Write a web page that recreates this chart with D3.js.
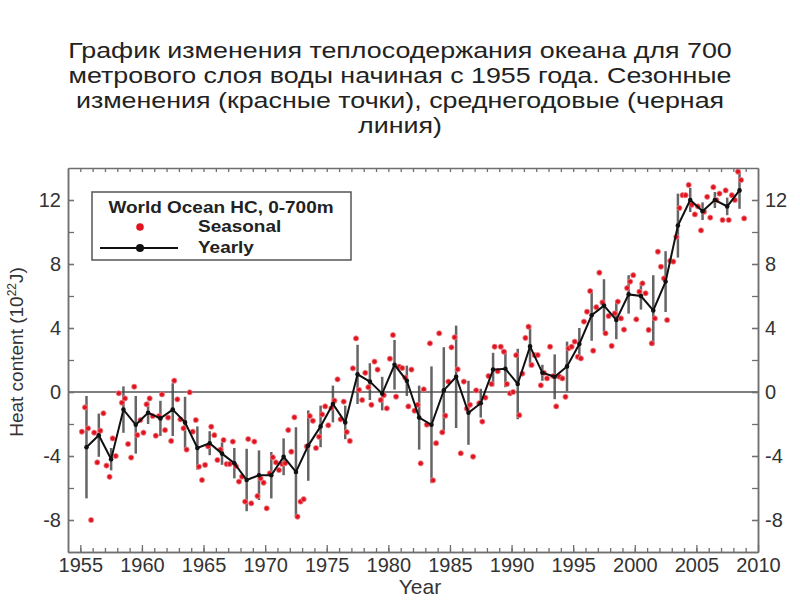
<!DOCTYPE html>
<html>
<head>
<meta charset="utf-8">
<script src="https://cdn.jsdelivr.net/npm/d3@7"></script>
<style>
  body { margin: 0; background: #fff; }
  svg { display: block; font-family: "Liberation Sans", Arial, sans-serif; }
</style>
</head>
<body>
<svg id="chart" width="800" height="600"></svg>
<script>
// ---- data ----
const titleLines = [
  'График изменения теплосодержания океана для 700',
  'метрового слоя воды начиная с 1955 года. Сезонные',
  'изменения (красные точки), среднегодовые (черная',
  'линия)'
]

const years = [1955, 1956, 1957, 1958, 1959, 1960, 1961, 1962, 1963, 1964,
  1965, 1966, 1967, 1968, 1969, 1970, 1971, 1972, 1973, 1974,
  1975, 1976, 1977, 1978, 1979, 1980, 1981, 1982, 1983, 1984,
  1985, 1986, 1987, 1988, 1989, 1990, 1991, 1992, 1993, 1994,
  1995, 1996, 1997, 1998, 1999, 2000, 2001, 2002, 2003, 2004,
  2005, 2006, 2007, 2008]

// yearly mean, 10^22 J
const yearly = [-3.45, -2.7, -4.2, -1.1, -2.05, -1.3, -1.65, -1.1, -1.9, -3.5,
  -3.2, -3.85, -4.45, -5.5, -5.2, -5.2, -4.05, -5.0, -3.35, -2.15,
  -0.75, -1.9, 1.1, 0.65, -0.1, 1.7, 0.7, -1.6, -2.05, 0.1,
  0.95, -1.3, -0.7, 1.4, 1.45, 0.5, 2.85, 1.2, 0.95, 1.6,
  3.0, 4.8, 5.4, 4.5, 6.1, 6.0, 5.1, 6.9, 10.4, 12.0,
  11.3, 12.0, 11.6, 12.6]

// half length of the error bar
const yearlyErr = [3.2, 1.35, 0.7, 1.45, 1.8, 0.7, 1.1, 1.65, 1.6, 1.35,
  0.75, 0.7, 0.95, 1.95, 1.55, 1.45, 1.15, 2.8, 2.2, 1.3,
  1.15, 1.05, 1.85, 1.15, 1.05, 1.55, 0.95, 2.0, 3.65, 2.7,
  3.2, 2.0, 0.9, 1.05, 1.15, 2.2, 1.3, 0.5, 1.4, 1.55,
  1.0, 1.6, 1.65, 1.2, 1.2, 0.85, 2.2, 1.9, 2.0, 0.75,
  0.55, 0.5, 0.55, 1.15]

// four seasons per year
const seasonal = [
  [-2.48, -0.96, -2.27, -8.0], [-2.54, -4.4, -2.42, -1.33], [-4.6, -5.3, -2.9, -4.0],
  [-0.08, -0.67, -0.4, -3.25], [-4.1, 0.33, -2.69, -1.75], [-2.54, -0.77, -0.4, -1.5],
  [-2.73, -1.5, -0.15, -2.38], [-1.6, -3.06, 0.71, -0.46], [-1.71, -2.27, -3.6, -0.02],
  [-2.48, -1.75, -4.67, -5.5], [-4.56, -3.4, -2.17, -2.7], [-4.25, -3.6, -3.0, -4.5],
  [-4.5, -3.1, -4.63, -5.6], [-5.29, -6.85, -2.94, -6.96], [-3.1, -6.5, -5.4, -5.67],
  [-7.27, -5.08, -4.08, -4.4], [-4.88, -4.5, -4.45, -2.38], [-3.73, -1.58, -7.79, -6.85],
  [-6.7, -3.4, -1.5, -1.8], [-3.5, -2.8, -1.4, -0.9], [-2.08, -1.0, -0.54, 0.79],
  [-1.71, -0.6, -2.5, -3.06], [1.48, 3.35, 0.13, -0.5], [1.2, 0.3, -0.8, 1.9],
  [1.4, -0.5, -0.2, -1.02], [2.08, 3.56, -0.29, 1.58], [1.5, 0.9, -0.9, 1.4],
  [-1.17, -0.8, -4.46, 0.17], [-2.04, 3.04, -5.52, -3.2], [3.67, -2.52, -1.48, 0.65],
  [2.79, 3.42, 1.42, -3.83], [0.65, -1.04, -0.8, -4.04], [0.1, -0.7, -1.85, -0.35],
  [1.0, 0.5, 2.83, 1.3], [2.83, 2.52, 0.5, -0.08], [0.0, 2.3, -1.45, 1.15],
  [3.38, 4.08, 1.69, 2.3], [2.31, 0.42, 1.2, 0.85], [2.83, 1.0, -0.9, 0.96],
  [0.85, -0.3, 2.73, 2.83], [3.15, 2.2, 2.1, 4.4], [5.02, 6.31, 2.58, 5.3],
  [7.46, 5.6, 3.67, 4.75], [2.88, 4.92, 5.65, 4.6], [3.9, 6.5, 6.9, 7.3],
  [4.54, 6.27, 6.79, 6.17], [3.88, 3.04, 4.6, 8.77], [7.83, 7.1, 4.5, 8.2],
  [8.15, 9.7, 11.5, 12.3], [12.3, 12.94, 11.7, 11.1], [11.6, 10.1, 11.27, 12.2],
  [10.9, 12.8, 12.0, 12.4], [10.75, 12.6, 10.75, 12.3], [12.0, 13.77, 13.25, 10.85]
]

const xTicks = [1955, 1960, 1965, 1970, 1975, 1980, 1985, 1990, 1995, 2000, 2005, 2010]
const yTicks = [-8, -4, 0, 4, 8, 12]
const legendTitle = 'World Ocean HC, 0-700m'
const legendNames = ['Seasonal', 'Yearly']

// ---- layout ----
let svg = d3.select('#chart')
let pLeft = 68, pRight = 758, pTop = 168, pBottom = 552
let axisColor = '#6f6f6f'
let textColor = '#333'

let x = d3.scaleLinear().domain([1954, 2010]).range([pLeft, pRight])
let y = d3.scaleLinear().domain([-10, 14]).range([pBottom, pTop])

// title (the source picture is a bit stretched sideways)
svg.append('g')
  .attr('transform', 'translate(400,0) scale(1.22,1)')
  .selectAll('text')
  .data(titleLines)
  .enter()
  .append('text')
  .attr('x', 0)
  .attr('y', (d, i) => 58 + i * 25)
  .attr('text-anchor', 'middle')
  .style('font-size', '22px')
  .style('fill', '#222')
  .text(d => d)

// zero line
svg.append('line')
  .attr('x1', pLeft).attr('x2', pRight)
  .attr('y1', y(0)).attr('y2', y(0))
  .attr('stroke', '#555')
  .attr('stroke-width', 1.5)

// error bars
svg.append('g')
  .selectAll('line')
  .data(years)
  .enter()
  .append('line')
  .attr('x1', d => x(d + 0.5))
  .attr('x2', d => x(d + 0.5))
  .attr('y1', (d, i) => y(yearly[i] + yearlyErr[i]))
  .attr('y2', (d, i) => y(yearly[i] - yearlyErr[i]))
  .attr('stroke', '#4a4a4a')
  .attr('stroke-opacity', 0.85)
  .attr('stroke-width', 2.5)

// seasonal dots
let seasonPts = []
years.forEach((yr, i) => {
  seasonal[i].forEach((v, k) => seasonPts.push({ t: yr + (k + 0.5) / 4, v: v }))
})
svg.append('g')
  .selectAll('circle')
  .data(seasonPts)
  .enter()
  .append('circle')
  .attr('cx', d => x(d.t))
  .attr('cy', d => y(d.v))
  .attr('r', 2.6)
  .attr('fill', '#e0141e')
  .attr('stroke', '#f08890')
  .attr('stroke-width', 0.8)

// yearly line + points
let line = d3.line()
  .x((d, i) => x(years[i] + 0.5))
  .y(d => y(d))
svg.append('path')
  .datum(yearly)
  .attr('d', line)
  .attr('fill', 'none')
  .attr('stroke', '#111')
  .attr('stroke-width', 2)

svg.append('g')
  .selectAll('circle')
  .data(yearly)
  .enter()
  .append('circle')
  .attr('cx', (d, i) => x(years[i] + 0.5))
  .attr('cy', d => y(d))
  .attr('r', 2.3)
  .attr('fill', '#111')

// axes, ticks point inward
let styleAxis = function (g) {
  g.select('.domain').attr('stroke', axisColor).attr('stroke-width', 1.5)
  g.selectAll('.tick line').attr('stroke', axisColor).attr('stroke-width', 1.3)
  g.selectAll('text')
    .style('font-size', '20px')
    .style('font-family', '"Liberation Sans", Arial, sans-serif')
    .attr('fill', textColor)
}

let plain = d => String(d)
let yearTicks = d3.range(1955, 2010)
let minorY = d3.range(-8, 14, 2)

svg.append('g')
  .attr('transform', `translate(0,${pBottom})`)
  .call(d3.axisBottom(x).tickValues(yearTicks).tickSize(-4).tickSizeOuter(0).tickFormat(''))
  .call(styleAxis)
svg.append('g')
  .attr('transform', `translate(0,${pBottom})`)
  .call(d3.axisBottom(x).tickValues(xTicks).tickSize(-7).tickSizeOuter(0).tickPadding(6).tickFormat(plain))
  .call(styleAxis)

svg.append('g')
  .attr('transform', `translate(0,${pTop})`)
  .call(d3.axisTop(x).tickValues(yearTicks).tickSize(-4).tickSizeOuter(0).tickFormat(''))
  .call(styleAxis)

svg.append('g')
  .attr('transform', `translate(${pLeft},0)`)
  .call(d3.axisLeft(y).tickValues(minorY).tickSize(-6).tickSizeOuter(0).tickFormat(''))
  .call(styleAxis)
svg.append('g')
  .attr('transform', `translate(${pLeft},0)`)
  .call(d3.axisLeft(y).tickValues(yTicks).tickSize(-6).tickSizeOuter(0).tickPadding(7).tickFormat(plain))
  .call(styleAxis)

svg.append('g')
  .attr('transform', `translate(${pRight},0)`)
  .call(d3.axisRight(y).tickValues(minorY).tickSize(-6).tickSizeOuter(0).tickFormat(''))
  .call(styleAxis)
svg.append('g')
  .attr('transform', `translate(${pRight},0)`)
  .call(d3.axisRight(y).tickValues(yTicks).tickSize(-6).tickSizeOuter(0).tickPadding(7).tickFormat(plain))
  .call(styleAxis)

// axis titles
svg.append('text')
  .attr('x', 420)
  .attr('y', 594)
  .attr('text-anchor', 'middle')
  .style('font-size', '21px')
  .style('fill', textColor)
  .text('Year')

let yTitle = svg.append('text')
  .attr('transform', 'translate(23,352) rotate(-90)')
  .attr('text-anchor', 'middle')
  .style('font-size', '19px')
  .style('fill', textColor)
yTitle.append('tspan').text('Heat content (10')
yTitle.append('tspan').attr('dy', -7).style('font-size', '12px').text('22')
yTitle.append('tspan').attr('dy', 7).text('J)')

// legend
let lg = svg.append('g')
lg.append('rect')
  .attr('x', 92).attr('y', 192)
  .attr('width', 259).attr('height', 68)
  .attr('fill', '#fff')
  .attr('stroke', '#555')
  .attr('stroke-width', 1.5)
lg.append('text')
  .attr('transform', 'translate(221,213) scale(1.15,1)')
  .attr('text-anchor', 'middle')
  .style('font-size', '16.5px')
  .style('font-weight', 'bold')
  .style('fill', '#222')
  .text(legendTitle)
lg.append('circle')
  .attr('cx', 140).attr('cy', 227).attr('r', 3.8)
  .attr('fill', '#e0141e')
lg.append('line')
  .attr('x1', 100).attr('x2', 178)
  .attr('y1', 248).attr('y2', 248)
  .attr('stroke', '#111').attr('stroke-width', 1.8)
lg.append('circle')
  .attr('cx', 140).attr('cy', 248).attr('r', 4)
  .attr('fill', '#111')
lg.selectAll('text.name')
  .data(legendNames)
  .enter()
  .append('text')
  .attr('class', 'name')
  .attr('transform', (d, i) => `translate(198,${232 + i * 21}) scale(1.15,1)`)
  .style('font-size', '16.5px')
  .style('font-weight', 'bold')
  .style('fill', '#222')
  .text(d => d)
</script>
</body>
</html>
